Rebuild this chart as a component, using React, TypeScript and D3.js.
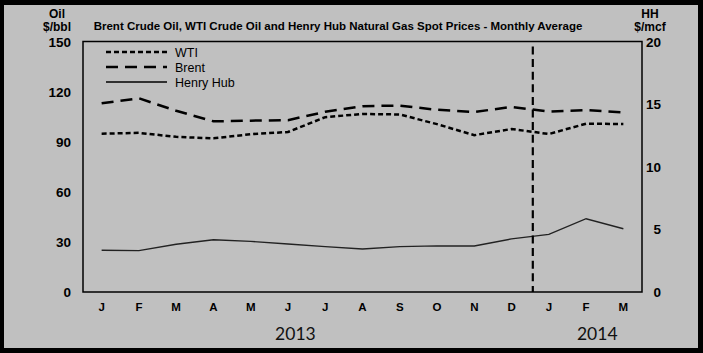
import React from 'react';
import * as d3 from 'd3';

const months = ['J', 'F', 'M', 'A', 'M', 'J', 'J', 'A', 'S', 'O', 'N', 'D', 'J', 'F', 'M'];
const wti = [94.8, 95.3, 92.9, 92.0, 94.5, 95.8, 104.7, 106.6, 106.3, 100.5, 93.9, 97.6, 94.6, 100.8, 100.6];
const brent = [113.0, 116.0, 108.5, 102.2, 102.6, 102.9, 107.9, 111.3, 111.6, 109.1, 107.8, 110.8, 108.1, 108.9, 107.5];
const henryHub = [3.33, 3.3, 3.81, 4.17, 4.04, 3.83, 3.62, 3.43, 3.62, 3.68, 3.67, 4.24, 4.6, 5.85, 5.05];
const oilTicks = [0, 30, 60, 90, 120, 150];
const hhTicks = [0, 5, 10, 15, 20];
const years = [
  { label: '2013', at: 5.2 },
  { label: '2014', at: 13.3 },
];
const markerAt = 11.57; // month index where the dashed separator sits

const W = 703;
const H = 353;
const plot = { left: 83, right: 642, top: 41.5, bottom: 292 };

const App = () => {
  const x = d3
    .scaleBand<number>()
    .domain(months.map((_, i) => i))
    .range([plot.left, plot.right]);
  const step = x.step();
  const cx = (i: number) => plot.left + step * (i + 0.5);
  const yOil = d3.scaleLinear().domain([0, 150]).range([plot.bottom, plot.top]);
  const yHH = d3.scaleLinear().domain([0, 20]).range([plot.bottom, plot.top]);

  const oilLine = d3
    .line<number>()
    .x((_, i) => cx(i))
    .y((d) => yOil(d));
  const hhLine = d3
    .line<number>()
    .x((_, i) => cx(i))
    .y((d) => yHH(d));

  const legend = [
    { name: 'WTI', dash: '5,3', width: 2.5, color: '#000' },
    { name: 'Brent', dash: '12,7', width: 2.5, color: '#000' },
    { name: 'Henry Hub', dash: null, width: 1.3, color: '#000' },
  ];

  const tickFont = { fontFamily: 'Liberation Sans, Arial, sans-serif', fontWeight: 700 };

  return (
    <svg width={W} height={H} style={{ position: 'absolute', left: 0, top: 0 }}>
      <rect x={0} y={0} width={W} height={H} fill="#000" />
      <rect x={4} y={5} width={694} height={343} fill="#c0c0c0" />

      <text x={338} y={30} textAnchor="middle" fontSize={11.5} {...tickFont} fill="#000">
        Brent Crude Oil, WTI Crude Oil and Henry Hub  Natural Gas Spot Prices - Monthly Average
      </text>

      {/* axis titles */}
      <text x={57} y={18} textAnchor="middle" fontSize={12} {...tickFont} fill="#000">Oil</text>
      <text x={57} y={31} textAnchor="middle" fontSize={12} {...tickFont} fill="#000">$/bbl</text>
      <text x={650} y={18} textAnchor="middle" fontSize={12} {...tickFont} fill="#000">HH</text>
      <text x={650} y={31} textAnchor="middle" fontSize={12} {...tickFont} fill="#000">$/mcf</text>

      {oilTicks.map((t) => (
        <text key={'l' + t} x={71} y={yOil(t) + 5} textAnchor="end" fontSize={13.5} {...tickFont} fill="#000">
          {t}
        </text>
      ))}
      {hhTicks.map((t) => (
        <text key={'r' + t} x={661} y={yHH(t) + 5} textAnchor="end" fontSize={13.5} {...tickFont} fill="#000">
          {t}
        </text>
      ))}

      {months.map((m, i) => (
        <text key={'m' + i} x={cx(i)} y={311} textAnchor="middle" fontSize={11.5} {...tickFont} fill="#000">
          {m}
        </text>
      ))}

      {years.map((yr) => (
        <text key={yr.label} x={cx(yr.at)} y={340} textAnchor="middle" fontSize={17.5} fontFamily="Lato, Carlito, sans-serif" fill="#111">
          {yr.label}
        </text>
      ))}

      <rect
        x={plot.left}
        y={plot.top}
        width={plot.right - plot.left}
        height={plot.bottom - plot.top}
        fill="none"
        stroke="#000"
        strokeWidth={1.5}
      />

      <path d={oilLine(brent) || ''} fill="none" stroke="#000" strokeWidth={2.5} strokeDasharray="12,7" />
      <path d={oilLine(wti) || ''} fill="none" stroke="#000" strokeWidth={2.5} strokeDasharray="5,3" />
      <path d={hhLine(henryHub) || ''} fill="none" stroke="#222" strokeWidth={1.4} />

      <line
        x1={cx(markerAt)}
        x2={cx(markerAt)}
        y1={46.5}
        y2={plot.bottom}
        stroke="#000"
        strokeWidth={2.2}
        strokeDasharray="8,4.6"
      />

      {legend.map((l, i) => (
        <g key={l.name} transform={`translate(0,${52 + i * 15})`}>
          <line
            x1={106}
            x2={167}
            y1={0}
            y2={0}
            stroke={l.color}
            strokeWidth={l.width}
            strokeDasharray={l.dash || undefined}
          />
          <text x={175} y={4.5} fontSize={12.5} fontFamily="Liberation Sans, Arial, sans-serif" fill="#000">
            {l.name}
          </text>
        </g>
      ))}
    </svg>
  );
};

export default App;
